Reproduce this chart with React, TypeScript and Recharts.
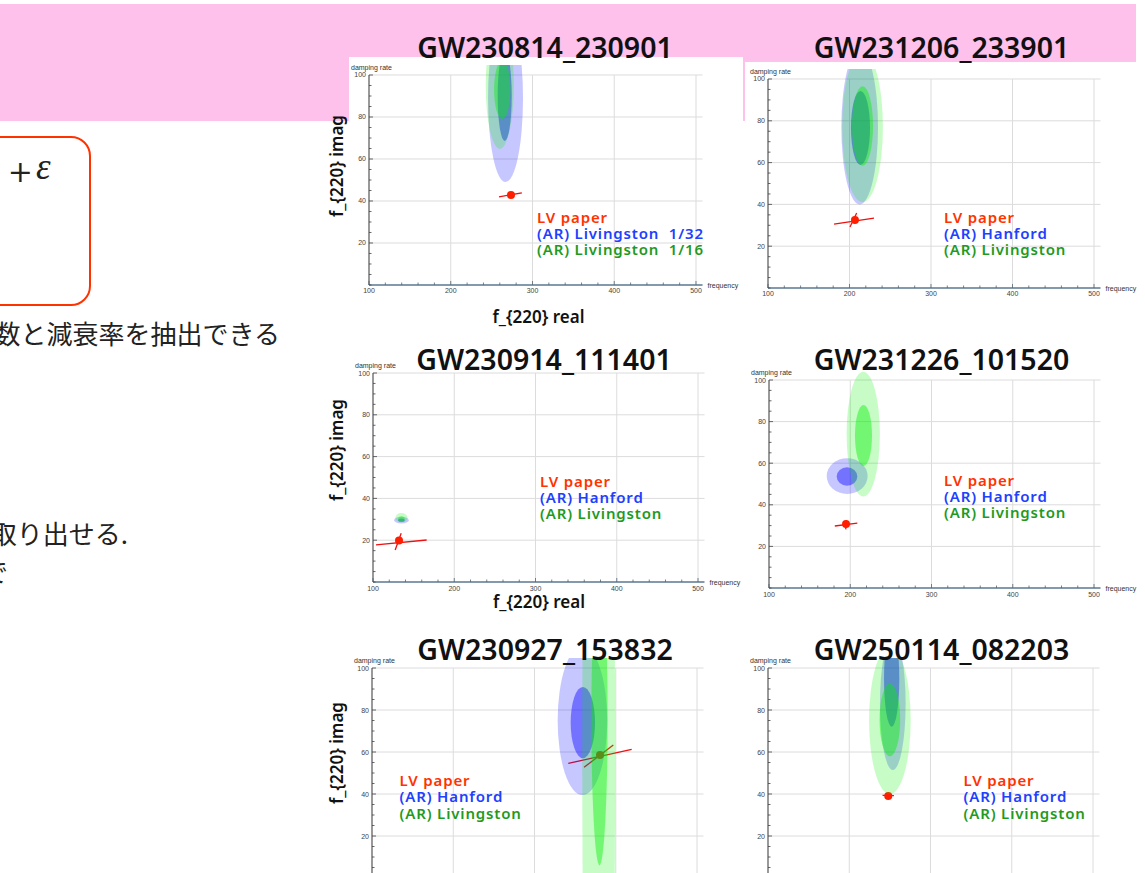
import React from 'react';
import { ScatterChart, Scatter, XAxis, YAxis, ReferenceArea, ReferenceLine } from 'recharts';

// ---- data ----
const eventNames = [
  'GW230814_230901',
  'GW231206_233901',
  'GW230914_111401',
  'GW231226_101520',
  'GW230927_153832',
  'GW250114_082203',
];

const legendLivingston = ['LV paper', '(AR) Livingston  1/32', '(AR) Livingston  1/16'];
const legendHL = ['LV paper', '(AR) Hanford', '(AR) Livingston'];
const panelLegends = [legendLivingston, legendHL, legendHL, legendHL, legendHL, legendHL];

const xTicks = [100, 120, 140, 160, 180, 200, 220, 240, 260, 280, 300, 320, 340, 360, 380, 400, 420, 440, 460, 480, 500];
const xLabelTicks = [100, 200, 300, 400, 500];
const yTicks = [0, 5, 10, 15, 20, 25, 30, 35, 40, 45, 50, 55, 60, 65, 70, 75, 80, 85, 90, 95, 100];
const yLabelTicks = [20, 40, 60, 80, 100];
const xGrid = [200, 300, 400, 500];
const yGrid = [20, 40, 60, 80, 100];

// LV paper estimate (f_220 real, f_220 imag)
const lvPoints = [
  { x: 273.7, y: 42.9 },
  { x: 206.7, y: 32.5 },
  { x: 132, y: 19.8 },
  { x: 194.8, y: 30.8 },
  { x: 380.6, y: 58.6 },
  { x: 248, y: 39 },
];

// error bars of the LV estimate: [x1, y1, x2, y2]
const lvErrors = [
  [[259, 42.0, 287, 43.9]],
  [[181, 30.6, 230, 33.4], [200.6, 29.2, 208.8, 35.9]],
  [[103.7, 17.8, 166, 20.1], [127.3, 15.3, 134.7, 23.3]],
  [[181, 29.8, 208.7, 31.2], [194.5, 28.2, 195.2, 32.6]],
  [[341.6, 54.6, 419.6, 61.3], [361, 52.7, 397, 63.3]],
  [[241, 39.3, 255, 39.2]],
];

// AR credible regions: series 0 = first AR entry, series 1 = second AR entry
type Region = { s: number; lvl: 'outer' | 'inner'; cx: number; cy: number; rx: number; ry: number };

const regions230814: Region[] = [
  { s: 0, lvl: 'outer', cx: 267, cy: 89, rx: 21.4, ry: 40 },
  { s: 0, lvl: 'inner', cx: 266, cy: 90, rx: 8.6, ry: 21.4 },
  { s: 1, lvl: 'outer', cx: 260, cy: 95, rx: 17.2, ry: 30.2 },
  { s: 1, lvl: 'inner', cx: 263, cy: 93, rx: 10, ry: 14 },
];
const regions231206: Region[] = [
  { s: 0, lvl: 'outer', cx: 212.5, cy: 77, rx: 22.5, ry: 37 },
  { s: 0, lvl: 'inner', cx: 213.5, cy: 76.6, rx: 11.7, ry: 17.7 },
  { s: 1, lvl: 'outer', cx: 216, cy: 77, rx: 25, ry: 36 },
  { s: 1, lvl: 'inner', cx: 216, cy: 77.5, rx: 12.9, ry: 19 },
];
const regions230914: Region[] = [
  { s: 0, lvl: 'outer', cx: 135, cy: 29.6, rx: 9, ry: 1.6 },
  { s: 0, lvl: 'inner', cx: 135, cy: 29.6, rx: 4, ry: 0.8 },
  { s: 1, lvl: 'outer', cx: 135, cy: 30.8, rx: 7.5, ry: 2.2 },
  { s: 1, lvl: 'inner', cx: 135, cy: 30.2, rx: 4, ry: 1.2 },
];
const regions231226: Region[] = [
  { s: 0, lvl: 'outer', cx: 196.2, cy: 53.8, rx: 25.2, ry: 8.6 },
  { s: 0, lvl: 'inner', cx: 196, cy: 53.6, rx: 12.7, ry: 4.4 },
  { s: 1, lvl: 'outer', cx: 216, cy: 74, rx: 20.5, ry: 30 },
  { s: 1, lvl: 'inner', cx: 216.3, cy: 73.3, rx: 10.5, ry: 14.7 },
];
const regions230927: Region[] = [
  { s: 0, lvl: 'outer', cx: 359, cy: 75, rx: 30.5, ry: 35.5 },
  { s: 0, lvl: 'inner', cx: 359.5, cy: 74, rx: 15, ry: 17 },
  { s: 1, lvl: 'outer', cx: 379, cy: 60, rx: 20.2, ry: 300 },
  { s: 1, lvl: 'inner', cx: 380, cy: 76, rx: 10, ry: 70 },
];
const regions250114: Region[] = [
  { s: 0, lvl: 'outer', cx: 253.6, cy: 83, rx: 15.8, ry: 31.6 },
  { s: 0, lvl: 'inner', cx: 252.2, cy: 95, rx: 9.4, ry: 23 },
  { s: 1, lvl: 'outer', cx: 250, cy: 75, rx: 25.6, ry: 35 },
  { s: 1, lvl: 'inner', cx: 250, cy: 75.3, rx: 12.7, ry: 17.3 },
];
const panelRegions = [regions230814, regions231206, regions230914, regions231226, regions230927, regions250114];

// ---- layout / style ----
// plot frame in page pixels: left (x=100), x500, top (y=100), bottom (y=0)
const frames = [
  { left: 369, x500: 696, top: 75, bottom: 285 },
  { left: 768, x500: 1094, top: 79, bottom: 288 },
  { left: 373, x500: 698, top: 373, bottom: 582 },
  { left: 769, x500: 1094, top: 380, bottom: 588 },
  { left: 372, x500: 697, top: 668, bottom: 878 },
  { left: 768, x500: 1093, top: 668, bottom: 878 },
];
const titlePos = [
  { x: 545, y: 58 },
  { x: 941.5, y: 57.5 },
  { x: 544, y: 370 },
  { x: 941.5, y: 370 },
  { x: 545, y: 660 },
  { x: 941.5, y: 660 },
];
const legendPos = [
  { x: 537, y: 222.5 },
  { x: 944, y: 222.5 },
  { x: 540, y: 486.7 },
  { x: 944, y: 485.7 },
  { x: 399.5, y: 786 },
  { x: 963.5, y: 786 },
];
const imagLabels = [
  { x: 342.5, y: 166 },
  { x: 343, y: 450 },
  { x: 343, y: 753 },
];
const realLabels = [
  { x: 538.5, y: 323 },
  { x: 539, y: 608 },
];

const X_DOMAIN: [number, number] = [100, 508];
const Y_AXIS_W = 30;
const M_TOP = 10;
const M_RIGHT = 45;
const M_BOTTOM = 2;
const X_AXIS_H = 14;

const RED = '#ff1e00';
const SERIES_FILL = ['#0000ff', '#00f000'];
const LEVEL_OPACITY = { outer: 0.22, inner: 0.42 };
const LEGEND_COLORS = ['#ff3300', '#2040ff', '#1f9a1f'];
const SANS = "'Noto Sans', 'Open Sans', sans-serif";
const SMALL = "'Liberation Sans', Arial, sans-serif";

const XTick = (props: any) => {
  const { x, y, payload } = props;
  const major = xLabelTicks.includes(payload.value);
  return (
    <g>
      <line x1={x} x2={x} y1={y} y2={y - (major ? 4 : 2.5)} stroke="#4f6577" strokeWidth={0.8} />
      {major && (
        <text x={x} y={y + 8.5} textAnchor="middle" fontSize={7} fontFamily={SMALL} fill="#444">
          {payload.value}
        </text>
      )}
    </g>
  );
};

const YTick = (props: any) => {
  const { x, y, payload } = props;
  const major = yLabelTicks.includes(payload.value);
  return (
    <g>
      <line x1={x} x2={x + (major ? 4 : 2.5)} y1={y} y2={y} stroke="#444" strokeWidth={0.8} />
      {major && (
        <text x={x - 3} y={y + 2.5} textAnchor="end" fontSize={7} fontFamily={SMALL} fill="#444">
          {payload.value}
        </text>
      )}
    </g>
  );
};

const ellipseShape = (props: any) => {
  const { x, y, width, height, fill, fillOpacity } = props;
  return (
    <ellipse
      cx={x + width / 2}
      cy={y + height / 2}
      rx={Math.abs(width) / 2}
      ry={Math.abs(height) / 2}
      fill={fill}
      fillOpacity={fillOpacity}
    />
  );
};

const lvDot = (props: any) => <circle cx={props.cx} cy={props.cy} r={4} fill={RED} />;

function Panel({ index }: { index: number }) {
  const f = frames[index];
  const right = f.x500 + ((X_DOMAIN[1] - 500) * (f.x500 - f.left)) / 400;
  const width = right - f.left + Y_AXIS_W + M_RIGHT;
  const height = f.bottom - f.top + M_TOP + X_AXIS_H + M_BOTTOM;

  return (
    <div style={{ position: 'absolute', left: f.left - Y_AXIS_W, top: f.top - M_TOP }}>
      <ScatterChart width={width} height={height} margin={{ top: M_TOP, right: M_RIGHT, bottom: M_BOTTOM, left: 0 }}>
        {xGrid.map((v) => (
          <ReferenceLine key={`gx${v}`} x={v} stroke="#dcdcdc" strokeWidth={1} zIndex={100} />
        ))}
        {yGrid.map((v) => (
          <ReferenceLine key={`gy${v}`} y={v} stroke="#dcdcdc" strokeWidth={1} zIndex={100} />
        ))}
        {lvErrors[index].map((e, i) => (
          <ReferenceLine
            key={`e${i}`}
            segment={[{ x: e[0], y: e[1] }, { x: e[2], y: e[3] }]}
            stroke="#ee1111"
            strokeWidth={1.3}
            ifOverflow="visible"
            zIndex={110}
          />
        ))}
        <Scatter data={[lvPoints[index]]} shape={lvDot} isAnimationActive={false} zIndex={120} />
        {panelRegions[index].map((r, i) => (
          <ReferenceArea
            key={`r${i}`}
            x1={r.cx - r.rx}
            x2={r.cx + r.rx}
            y1={r.cy - r.ry}
            y2={r.cy + r.ry}
            fill={SERIES_FILL[r.s]}
            fillOpacity={LEVEL_OPACITY[r.lvl]}
            stroke="none"
            ifOverflow="hidden"
            shape={ellipseShape}
            zIndex={130}
          />
        ))}
        <XAxis
          type="number"
          dataKey="x"
          domain={X_DOMAIN}
          ticks={xTicks}
          interval={0}
          tickSize={0}
          tickMargin={0}
          tickLine={false}
          tick={(p: any) => <XTick {...p} />}
          axisLine={{ stroke: '#5b7890', strokeWidth: 1.6 }}
          height={X_AXIS_H}
          allowDataOverflow
        />
        <YAxis
          type="number"
          dataKey="y"
          domain={[0, 100]}
          ticks={yTicks}
          interval={0}
          tickSize={0}
          tickMargin={0}
          tickLine={false}
          tick={(p: any) => <YTick {...p} />}
          axisLine={{ stroke: '#555', strokeWidth: 1.2 }}
          width={Y_AXIS_W}
          allowDataOverflow
        />
      </ScatterChart>
    </div>
  );
}

export default function App() {
  return (
    <div
      style={{
        position: 'absolute',
        left: 0,
        top: 0,
        width: 1145,
        height: 873,
        overflow: 'hidden',
        background: '#fff',
      }}
    >
      {/* slide header band and the white backgrounds of the top plots */}
      <div style={{ position: 'absolute', left: 0, top: 4, width: 1136, height: 116.5, background: '#fdc1eb' }} />
      <div style={{ position: 'absolute', left: 349, top: 57, width: 394, height: 70, background: '#fff' }} />
      <div style={{ position: 'absolute', left: 745, top: 62, width: 400, height: 65, background: '#fff' }} />

      {/* red formula box, mostly off the left edge */}
      <div
        style={{
          position: 'absolute',
          left: -30,
          top: 136,
          width: 121,
          height: 170,
          boxSizing: 'border-box',
          border: '2.5px solid #ff3300',
          borderRadius: 20,
        }}
      />

      {eventNames.map((_, i) => (
        <Panel key={i} index={i} />
      ))}

      <svg
        width={1145}
        height={873}
        style={{ position: 'absolute', left: 0, top: 0, pointerEvents: 'none' }}
      >
        {/* left slide text */}
        <text x={7.7} y={181.5} fontSize={30} fontFamily="'DejaVu Serif', serif" fill="#222">+</text>
        <text x={36} y={179} fontSize={37} fontStyle="italic" fontFamily="'Liberation Serif', serif" fill="#222">ε</text>
        <text x={280} y={344} textAnchor="end" fontSize={26} fontFamily="'Noto Sans CJK JP', sans-serif" fill="#222">
          数と減衰率を抽出できる
        </text>
        <text x={128} y={544} textAnchor="end" fontSize={26} fontFamily="'Noto Sans CJK JP', sans-serif" fill="#222">
          取り出せる.
        </text>
        <text x={-18} y={582} fontSize={26} fontFamily="'Noto Sans CJK JP', sans-serif" fill="#222">
          で
        </text>

        {eventNames.map((name, i) => (
          <text
            key={`t${i}`}
            x={titlePos[i].x}
            y={titlePos[i].y}
            textAnchor="middle"
            fontSize={28.5}
            fontWeight={600}
            fontFamily={SANS}
            fill="#111"
          >
            {name}
          </text>
        ))}

        {frames.map((f, i) => (
          <g key={`al${i}`} fontFamily={SMALL} fontSize={7} fill="#333">
            <text x={f.left - 18} y={f.top - 5.5}>damping rate</text>
            <text x={f.x500 + 11.5} y={f.bottom + 2.5}>frequency</text>
          </g>
        ))}

        {panelLegends.map((labels, i) => (
          <g key={`lg${i}`}>
            {labels.map((label, j) => (
              <text
                key={j}
                x={legendPos[i].x}
                y={legendPos[i].y + j * 16.3}
                fontSize={15}
                fontWeight={600}
                letterSpacing={0.85}
                fontFamily={SANS}
                fill={LEGEND_COLORS[j]}
                style={{ whiteSpace: 'pre' }}
              >
                {label}
              </text>
            ))}
          </g>
        ))}

        {imagLabels.map((p, i) => (
          <text
            key={`im${i}`}
            x={p.x}
            y={p.y}
            transform={`rotate(-90 ${p.x} ${p.y})`}
            textAnchor="middle"
            fontSize={17}
            fontWeight={600}
            fontFamily={SANS}
            fill="#111"
          >
            f_{'{220}'} imag
          </text>
        ))}
        {realLabels.map((p, i) => (
          <text
            key={`re${i}`}
            x={p.x}
            y={p.y}
            textAnchor="middle"
            fontSize={17}
            fontWeight={600}
            fontFamily={SANS}
            fill="#111"
          >
            f_{'{220}'} real
          </text>
        ))}
      </svg>
    </div>
  );
}
